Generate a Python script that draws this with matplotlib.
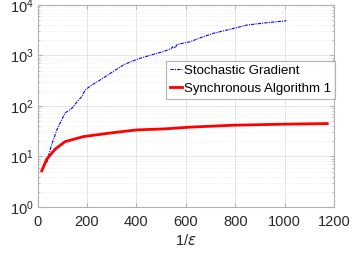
import matplotlib.pyplot as plt
from matplotlib.ticker import LogLocator, NullFormatter

plt.rcParams['font.family'] = ['Liberation Sans', 'DejaVu Sans']

# values
sg_x = [37, 55, 78, 95, 111, 139, 166, 179, 193, 220, 253, 300, 348, 380, 416, 460, 510, 540, 548, 556, 564, 590, 618, 660, 713, 780, 848, 930, 1007]
sg_y = [7.5, 16, 33.5, 50, 72, 90, 131, 153, 208, 260, 326, 460, 650, 760, 880, 1020, 1200, 1350, 1500, 1400, 1630, 1750, 1860, 2250, 2750, 3300, 4000, 4450, 4850]

sa_x = [17, 37, 71, 111, 186, 307, 402, 510, 618, 793, 1000, 1172]
sa_y = [5.2, 8.8, 13.9, 19.6, 24.7, 29.6, 33.5, 35.0, 38.0, 41.5, 43.5, 44.7]

fig = plt.figure(figsize=(3.51, 2.58), dpi=100)
ax = fig.add_axes([0.107, 0.198, 0.845, 0.783])

ax.plot(sg_x, sg_y, color='#0000ff', lw=0.8, dashes=(3, 1, 1, 1), label='Stochastic Gradient')
ax.plot(sa_x, sa_y, '-', color='#ff0000', lw=2, label='Synchronous Algorithm 1')

ax.set_yscale('log')
ax.set_xlim(0, 1200)
ax.set_ylim(1, 1e4)
ax.set_xticks([0, 200, 400, 600, 800, 1000, 1200])
ax.yaxis.set_major_locator(LogLocator(base=10, numticks=10))
ax.yaxis.set_minor_locator(LogLocator(base=10, subs=range(2, 10), numticks=10))
ax.yaxis.set_minor_formatter(NullFormatter())

ax.grid(True, which='major', color='#e0e0e0', lw=0.6)
ax.grid(True, which='minor', axis='y', color='#e8e8e8', lw=0.5, ls=':')
ax.set_axisbelow(True)

for s in ax.spines.values():
    s.set_color('#b0b0b0')
    s.set_linewidth(0.8)
ax.tick_params(which='both', direction='in', top=True, right=True, color='#b0b0b0',
               labelsize=10.5, labelcolor='#262626')
ax.tick_params(axis='x', pad=6)
ax.tick_params(axis='y', pad=3)
ax.tick_params(which='major', length=3)
ax.tick_params(which='minor', length=1.5)

ax.set_xlabel('1/$\\epsilon$', fontsize=10.5, color='#262626', labelpad=3)

leg = ax.legend(loc='upper left', bbox_to_anchor=(0.433, 0.723), fontsize=9.5,
                frameon=True, fancybox=False, handlelength=0.9, handletextpad=0.15,
                borderpad=0.3, labelspacing=0.4, borderaxespad=0)
leg.get_frame().set_edgecolor('#a0a0a0')
leg.get_frame().set_linewidth(0.8)

fig.savefig('out.png', dpi=100)
